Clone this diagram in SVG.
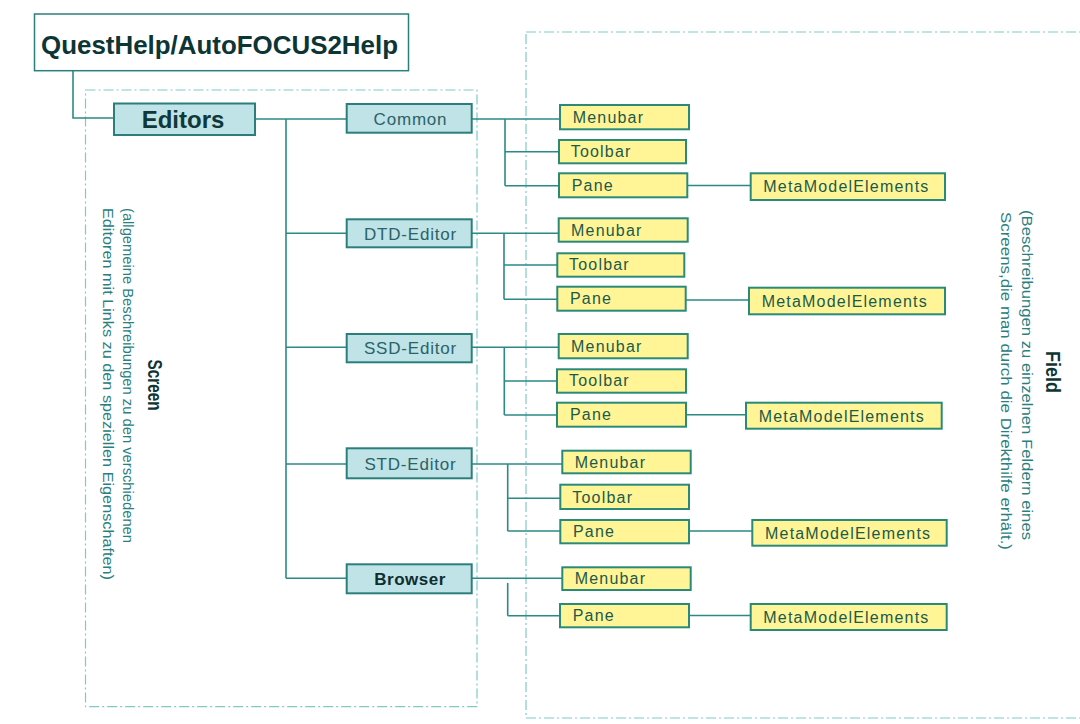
<svg xmlns="http://www.w3.org/2000/svg" width="1080" height="724" viewBox="0 0 1080 724" font-family="'Liberation Sans', Arial, sans-serif">
<style>
.bg{fill:#ffffff}
.region{fill:none;stroke:#7fc9c9;stroke-width:1.2;stroke-dasharray:10 3 2 3}
.title{fill:#ffffff;stroke:#2a7f7d;stroke-width:1.5}
.ed{fill:#bfe3e6;stroke:#2a7f7d;stroke-width:2}
.leaf{fill:#fff597;stroke:#2a8a78;stroke-width:2}
.ln{fill:none;stroke:#2b8a86;stroke-width:1.6}
text{font-family:"Liberation Sans",Arial,sans-serif}
.tt{font-size:26px;font-weight:bold;fill:#0d3535}
.edt{font-size:24px;font-weight:bold;fill:#103838;text-anchor:middle}
.et{font-size:17px;fill:#2c6266;text-anchor:middle;letter-spacing:0.8px}
.etb{font-size:17px;font-weight:bold;fill:#102e30;text-anchor:middle;letter-spacing:0.5px}
.lt{font-size:16px;fill:#1c5a4a;letter-spacing:1.2px}
.hd{font-size:21px;font-weight:bold;fill:#0d3535;text-anchor:middle}
.sub{font-size:14px;fill:#2a8080}
</style>
<rect class="bg" x="0" y="0" width="1080" height="724"/>

<g id="regions">
  <rect class="region" x="85.5" y="90" width="391.5" height="616.7"/>
  <rect class="region" x="526" y="32" width="580" height="686"/>
</g>

<g id="region-labels">
  <text class="hd" transform="translate(148,385) rotate(90)" textLength="51" lengthAdjust="spacingAndGlyphs">Screen</text>
  <text class="sub" transform="translate(123,208) rotate(90)" textLength="335" lengthAdjust="spacingAndGlyphs">(allgemeine Beschreibungen zu den verschiedenen</text>
  <text class="sub" transform="translate(103,208) rotate(90)" textLength="372" lengthAdjust="spacingAndGlyphs">Editoren mit Links zu den speziellen Eigenschaften)</text>
  <text class="hd" transform="translate(1046,372) rotate(90)" textLength="42" lengthAdjust="spacingAndGlyphs">Field</text>
  <text class="sub" transform="translate(1022,210) rotate(90)" textLength="330" lengthAdjust="spacingAndGlyphs">(Beschreibungen zu einzelnen Feldern eines</text>
  <text class="sub" transform="translate(1001,212) rotate(90)" textLength="338" lengthAdjust="spacingAndGlyphs">Screens,die man durch die Direkthilfe erhält.)</text>
</g>

<g id="connectors">
  <path class="ln" d="M73,70.7 V118 H114"/>
  <path class="ln" d="M255,119 H347 M286,119 V578.3"/>
  <path class="ln" d="M286,233.3 H347 M286,347.3 H347 M286,464 H347 M286,578.3 H347"/>
  <path class="ln" d="M471.7,119 H560 M505,119 V185.7 M505,151.7 H559 M505,185.7 H559 M687.3,185.5 H750.7"/>
  <path class="ln" d="M471.7,233.3 H558.7 M504,233.3 V299.3 M504,265 H557.3 M504,299.3 H557.3 M685.7,300 H749"/>
  <path class="ln" d="M471.7,347.3 H558.7 M504.3,347.3 V415 M504.3,381 H557 M504.3,415 H557 M686,414.7 H746"/>
  <path class="ln" d="M471.7,464 H562.3 M507.7,464 V531 M507.7,498.3 H560.3 M507.7,531 H560.3 M689,531 H752.3"/>
  <path class="ln" d="M471.7,578.3 H562.3 M507.7,583 V615.7 M507.7,615.7 H560 M689,615.5 H750.7"/>
</g>

<g id="n-title">
  <rect class="title" x="34.5" y="14" width="374" height="56.7"/>
  <text class="tt" x="41" y="53.5" textLength="357" lengthAdjust="spacingAndGlyphs">QuestHelp/AutoFOCUS2Help</text>
</g>
<g id="n-editors">
  <rect class="ed" x="114" y="103.5" width="141" height="31.5"/>
  <text class="edt" x="183" y="128">Editors</text>
</g>

<g id="n-common">
  <rect class="ed" x="346.7" y="104" width="125" height="28.7"/>
  <text class="et" x="410.5" y="124.5">Common</text>
</g>
<g id="n-dtd">
  <rect class="ed" x="346.7" y="219.3" width="125" height="28"/>
  <text class="et" x="410.5" y="239.5">DTD-Editor</text>
</g>
<g id="n-ssd">
  <rect class="ed" x="346.7" y="334" width="125" height="28.3"/>
  <text class="et" x="410.5" y="354.3">SSD-Editor</text>
</g>
<g id="n-std">
  <rect class="ed" x="346.7" y="448.3" width="125" height="30"/>
  <text class="et" x="410.5" y="469.5">STD-Editor</text>
</g>
<g id="n-browser">
  <rect class="ed" x="346.7" y="564.3" width="125" height="29"/>
  <text class="etb" x="410" y="585">Browser</text>
</g>

<g id="n-common-menubar"><rect class="leaf" x="560" y="105" width="129" height="24.3"/><text class="lt" x="572.7" y="122.5">Menubar</text></g>
<g id="n-common-toolbar"><rect class="leaf" x="559" y="140" width="127" height="23.3"/><text class="lt" x="570.7" y="156.8">Toolbar</text></g>
<g id="n-common-pane"><rect class="leaf" x="559" y="173.3" width="128.3" height="24"/><text class="lt" x="571.7" y="190.8">Pane</text></g>
<g id="n-common-mme"><rect class="leaf" x="750.7" y="173.3" width="194.3" height="26.7"/><text class="lt" x="763.3" y="192.3">MetaModelElements</text></g>

<g id="n-dtd-menubar"><rect class="leaf" x="558.7" y="218.3" width="129" height="23.4"/><text class="lt" x="571" y="235.5">Menubar</text></g>
<g id="n-dtd-toolbar"><rect class="leaf" x="557.3" y="253.3" width="127" height="23.4"/><text class="lt" x="569" y="270.3">Toolbar</text></g>
<g id="n-dtd-pane"><rect class="leaf" x="557.3" y="286.7" width="128.4" height="24"/><text class="lt" x="570" y="304.3">Pane</text></g>
<g id="n-dtd-mme"><rect class="leaf" x="749" y="287.7" width="196" height="26.6"/><text class="lt" x="761.7" y="306.7">MetaModelElements</text></g>

<g id="n-ssd-menubar"><rect class="leaf" x="558.7" y="334" width="129" height="24.3"/><text class="lt" x="571" y="351.5">Menubar</text></g>
<g id="n-ssd-toolbar"><rect class="leaf" x="557" y="369.3" width="129" height="23.4"/><text class="lt" x="569" y="386.3">Toolbar</text></g>
<g id="n-ssd-pane"><rect class="leaf" x="557" y="402.7" width="129" height="24"/><text class="lt" x="570" y="420.3">Pane</text></g>
<g id="n-ssd-mme"><rect class="leaf" x="746" y="402.7" width="195.7" height="26"/><text class="lt" x="758.7" y="421.5">MetaModelElements</text></g>

<g id="n-std-menubar"><rect class="leaf" x="562.3" y="450.7" width="128.4" height="22.6"/><text class="lt" x="574.7" y="467.7">Menubar</text></g>
<g id="n-std-toolbar"><rect class="leaf" x="560.3" y="484.7" width="128.7" height="24.3"/><text class="lt" x="572.3" y="502.5">Toolbar</text></g>
<g id="n-std-pane"><rect class="leaf" x="560.3" y="520" width="128.7" height="23.3"/><text class="lt" x="573" y="537.3">Pane</text></g>
<g id="n-std-mme"><rect class="leaf" x="752.3" y="520" width="194.4" height="25.7"/><text class="lt" x="765" y="538.6">MetaModelElements</text></g>

<g id="n-browser-menubar"><rect class="leaf" x="562.3" y="567.3" width="128.4" height="22.7"/><text class="lt" x="574.7" y="584.3">Menubar</text></g>
<g id="n-browser-pane"><rect class="leaf" x="560" y="604" width="129" height="23.3"/><text class="lt" x="572.7" y="621.3">Pane</text></g>
<g id="n-browser-mme"><rect class="leaf" x="750.7" y="604" width="196" height="26"/><text class="lt" x="763.3" y="622.8">MetaModelElements</text></g>
</svg>
